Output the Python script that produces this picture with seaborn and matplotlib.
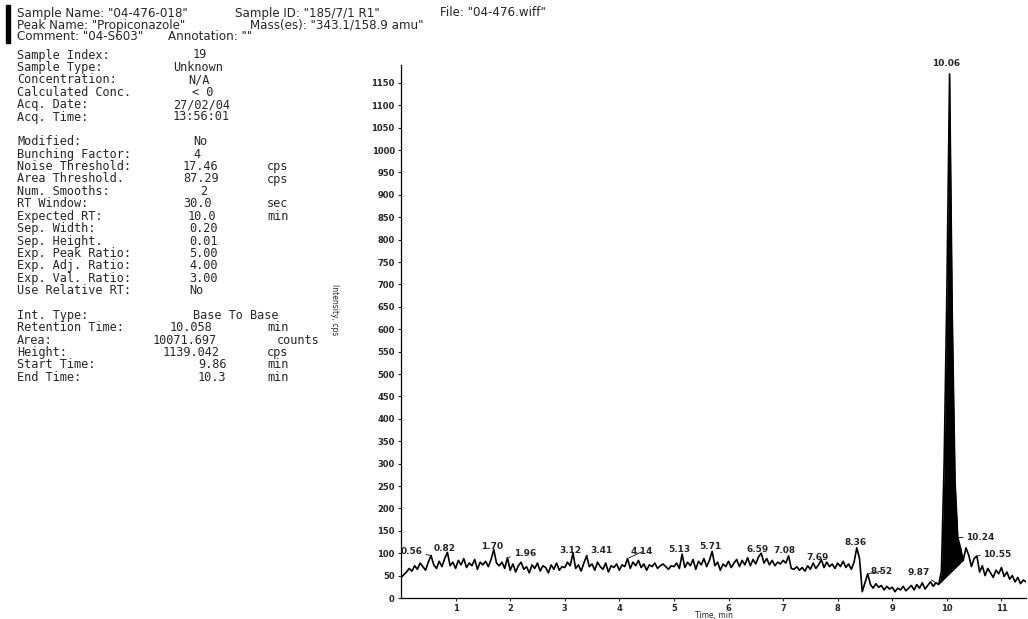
import numpy as np
import matplotlib.pyplot as plt
import seaborn as sns
from matplotlib.patches import Rectangle

# chromatogram trace, one value every 0.05 min
intensity = [
    45, 52, 58, 66, 60, 72, 64, 78, 70, 62, 80, 95, 74, 66, 82, 70, 88, 102, 72, 80,
    66, 84, 74, 88, 68, 78, 72, 86, 64, 80, 74, 82, 70, 86, 108, 78, 72, 80, 66, 90,
    62, 76, 58, 72, 80, 64, 70, 56, 74, 66, 78, 60, 72, 68, 56, 74, 64, 78, 62, 70,
    68, 80, 72, 100, 66, 74, 60, 78, 94, 70, 76, 62, 80, 70, 64, 78, 58, 72, 68, 76,
    62, 74, 70, 88, 66, 80, 72, 84, 68, 76, 62, 74, 70, 78, 66, 72, 76, 70, 64, 72,
    70, 78, 66, 98, 68, 80, 72, 86, 64, 82, 74, 88, 70, 84, 104, 72, 80, 62, 76, 70,
    82, 68, 78, 86, 70, 84, 74, 90, 72, 86, 76, 92, 100, 78, 88, 74, 84, 72, 80, 76,
    84, 78, 94, 66, 64, 70, 62, 68, 60, 72, 64, 78, 66, 74, 86, 68, 80, 70, 76, 66,
    78, 70, 82, 68, 76, 64, 80, 112, 88, 14, 34, 54, 30, 22, 32, 24, 28, 18, 26, 20,
    24, 14, 22, 18, 26, 16, 22, 28, 18, 30, 22, 34, 20, 28, 36, 26, 34, 30, 60, 300,
    680, 1170, 620, 260, 135, 112, 84, 112, 96, 70, 88, 94, 58, 72, 50, 66, 56, 46, 62, 54,
    68, 48, 58, 42, 50, 36, 46, 32, 40, 36,
]
time_min = np.round(np.arange(len(intensity)) * 0.05, 2)

# integrated peak (base to base)
start_rt = 9.85
end_rt = 10.30

# peak annotations
peak_text = ["0.56", "0.82", "1.70", "1.96", "3.12", "3.41", "4.14", "5.13", "5.71",
             "6.59", "7.08", "7.69", "8.36", "8.52", "9.87", "10.06", "10.24", "10.55"]
peak_rt = [0.55, 0.85, 1.70, 1.95, 3.15, 3.40, 4.15, 5.15, 5.70,
           6.60, 7.10, 7.70, 8.35, 8.55, 9.85, 10.05, 10.20, 10.55]

# left info block
info_labels = ["Sample Index:", "Sample Type:", "Concentration:", "Calculated Conc.",
               "Acq. Date:", "Acq. Time:", "", "Modified:", "Bunching Factor:",
               "Noise Threshold:", "Area Threshold.", "Num. Smooths:", "RT Window:",
               "Expected RT:", "Sep. Width:", "Sep. Height.", "Exp. Peak Ratio:",
               "Exp. Adj. Ratio:", "Exp. Val. Ratio:", "Use Relative RT:", "",
               "Int. Type:", "Retention Time:", "Area:", "Height:", "Start Time:",
               "End Time:"]
info_values = ["19", "Unknown", "N/A", "< 0", "27/02/04", "13:56:01", "", "No", "4",
               "17.46", "87.29", "2", "30.0", "10.0", "0.20", "0.01", "5.00", "4.00",
               "3.00", "No", "", "Base To Base", "10.058", "10071.697", "1139.042",
               "9.86", "10.3"]
info_units = ["", "", "", "", "", "", "", "", "", "cps", "cps", "", "sec", "min", "",
              "", "", "", "", "", "", "", "min", "counts", "cps", "min", "min"]

header = [['Sample Name: "04-476-018"', 'Sample ID: "185/7/1 R1"', 'File: "04-476.wiff"'],
          ['Peak Name: "Propiconazole"', 'Mass(es): "343.1/158.9 amu"'],
          ['Comment: "04-S603"', 'Annotation: ""']]

W, H = 1028, 619
sns.set_theme(style="ticks")
plt.rcParams["font.family"] = ["DejaVu Sans"]

fig = plt.figure(figsize=(W / 100, H / 100), dpi=100)
ax = fig.add_axes([401 / W, 1 - 598 / H, 625 / W, 533 / H])

sns.lineplot(x=time_min, y=intensity, ax=ax, color="black", linewidth=1.2)

t = np.array(time_min)
y = np.array(intensity, dtype=float)
mask = (t >= start_rt - 1e-9) & (t <= end_rt + 1e-9)
base = np.interp(t, [start_rt, end_rt],
                 [np.interp(start_rt, t, y), np.interp(end_rt, t, y)])
ax.fill_between(t[mask], base[mask], y[mask], color="black", lw=0)

# label placement (text centre, in data units) and leader flags
label_x = [0.20, 0.80, 1.67, 2.27, 3.10, 3.68, 4.41, 5.09, 5.66,
           6.54, 7.03, 7.64, 8.32, 8.81, 9.49, 9.99, 10.62, 10.93]
label_y = [103, 111, 114, 100, 107, 105, 103, 109, 114,
           109, 105, 91, 123, 60, 58, 1194, 136, 98]
leader = [True, False, False, True, False, True, True, False, False,
          False, False, False, False, True, True, False, True, True]
for txt, rt, lx, ly, ld in zip(peak_text, peak_rt, label_x, label_y, leader):
    py = np.interp(rt, t, y)
    if ld:
        ax.annotate(txt, xy=(rt, py), xytext=(lx, ly), ha="center", va="center",
                    fontsize=6.5, fontweight="bold",
                    arrowprops=dict(arrowstyle="-", lw=0.6, color="black",
                                    shrinkA=0, shrinkB=1))
    else:
        ax.text(lx, ly, txt, ha="center", va="center", fontsize=6.5, fontweight="bold")

ax.set_xlim(0, 11.45)
ax.set_ylim(0, 1190)
ax.set_xticks(range(1, 12))
ax.set_yticks(range(0, 1151, 50))
ax.tick_params(axis="both", labelsize=6, length=2.5, width=0.8, pad=2)
ax.tick_params(axis="x", pad=1.5)
for lab in ax.get_xticklabels() + ax.get_yticklabels():
    lab.set_fontweight("bold")
ax.set_xlabel("Time, min", fontsize=5.5, labelpad=-1)
ax.set_ylabel("")
sns.despine(ax=ax)
for s in ("left", "bottom"):
    ax.spines[s].set_linewidth(0.9)
    ax.spines[s].set_color("black")

fig.text(334 / W, 1 - 310 / H, "Intensity, cps", rotation=-90, fontsize=5.5,
         ha="center", va="center")

# header block with black bar
fig.add_artist(Rectangle((6 / W, 1 - 43 / H), 4 / W, 38 / H,
                         transform=fig.transFigure, color="black"))
header_x = [[17, 235, 440], [17, 250], [17, 168]]
for i, (parts, xs) in enumerate(zip(header, header_x)):
    for part, px in zip(parts, xs):
        fig.text(px / W, 1 - (13 + 12 * i) / H, part, fontsize=8.6,
                 va="center", ha="left")

value_x = [193, 173, 188, 192, 173, 173, 0, 193, 193, 183, 183, 200, 183, 188, 189,
           189, 189, 189, 189, 189, 0, 193, 170, 153, 163, 198, 198]
unit_x = [267] * len(info_units)
unit_x[23] = 277
mono = dict(fontsize=8.6, va="center", ha="left", family="DejaVu Sans Mono")
for i, (lb, vl, un) in enumerate(zip(info_labels, info_values, info_units)):
    yy = 1 - (55 + 12.4 * i) / H
    if lb:
        fig.text(17 / W, yy, lb, **mono)
    if vl:
        fig.text(value_x[i] / W, yy, vl, **mono)
    if un:
        fig.text(unit_x[i] / W, yy, un, **mono)

fig.savefig("out.png", dpi=100, facecolor="white")
